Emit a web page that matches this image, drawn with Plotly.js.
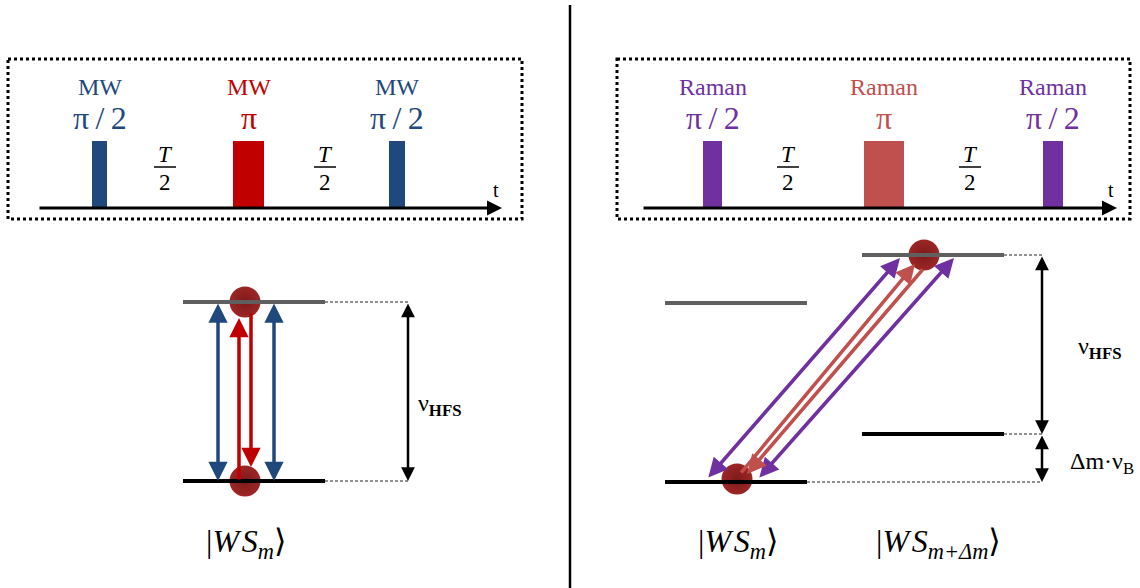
<!DOCTYPE html>
<html>
<head>
<meta charset="utf-8">
<script src="https://cdn.plot.ly/plotly-3.0.1.min.js"></script>
<style>html,body{margin:0;padding:0;background:#fff;}#plot{width:1140px;height:588px;}</style>
</head>
<body>
<div id="plot"></div>
<script>
// ---------- data ----------
// pulse sequences (time axis positions, horizontal units)
const pulseLabels   = ['MW', 'MW', 'MW', 'Raman', 'Raman', 'Raman'];
const pulseAngles   = ['π\u2009/\u20092', 'π', 'π\u2009/\u20092', 'π\u2009/\u20092', 'π', 'π\u2009/\u20092'];
const pulseStart    = [92, 233, 389, 703, 864, 1043];
const pulseEnd      = [107, 264, 405, 722, 904, 1063];
const pulseColors   = ['#1F497D', '#C00000', '#1F497D', '#7030A0', '#C0504D', '#7030A0'];
const gapCenters    = [165, 325, 788, 970];          // T/2 labels
const timeAxisStart = [38, 642];
const timeAxisEnd   = [502, 1117];

// energy levels
const levelX0    = [183, 183, 665, 665, 862, 862];
const levelX1    = [325, 325, 807, 807, 1004, 1004];
const levelY     = [302, 481, 303, 482, 255, 434];
const levelColor = ['#5f5f5f', '#000000', '#5f5f5f', '#000000', '#5f5f5f', '#000000'];

// atoms (population balls)
const atomX = [245, 245, 737, 924];
const atomY = [302, 481, 479, 255];

// transition arrows
const transTailX = [218, 274, 239, 251, 707, 758, 740, 924];
const transTailY = [302, 302, 481, 312, 479, 479, 474, 268];
const transHeadX = [218, 274, 239, 251, 900, 954, 915, 747];
const transHeadY = [481, 481, 318, 467, 258, 258, 264, 474];
const transColor = ['#1F497D', '#1F497D', '#C00000', '#C00000', '#7030A0', '#7030A0', '#C0504D', '#C0504D'];
const transBoth  = [true, true, false, false, true, true, false, false];

// spacing markers
const gapArrowX  = [408, 1042, 1042];
const gapArrowY0 = [302, 255, 434];
const gapArrowY1 = [481, 434, 482];
const gapLabels  = ['ν<sub><b>HFS</b></sub>', 'ν<sub><b>HFS</b></sub>', 'Δm·ν<sub>B</sub>'];
const gapLabelX  = [440, 1100, 1102];
const gapLabelY  = [405, 348, 463];

const ketLabels = ['|<i>W\u200aS<sub>m</sub></i>⟩', '|<i>W\u200aS<sub>m</sub></i>⟩', '|<i>W\u200aS<sub>m+Δm</sub></i>⟩'];
const ketX      = [246, 738, 938];

// ---------- build ----------
const serif = '"Liberation Serif", "Times New Roman", "DejaVu Serif", serif';
const shapes = [];
const annotations = [];

shapes.push({type: 'line', xref: 'x', yref: 'y', x0: 570, x1: 570, y0: 5, y1: 588, line: {color: '#000', width: 2.5}});
[[8, 522], [617, 1130]].forEach(b => {
  shapes.push({type: 'rect', xref: 'x', yref: 'y', x0: b[0], x1: b[1], y0: 59, y1: 219,
    line: {color: '#000', width: 3, dash: 'dot'}, fillcolor: 'rgba(0,0,0,0)'});
});
timeAxisStart.forEach((x0, i) => {
  annotations.push({x: timeAxisEnd[i], y: 208, ax: x0, ay: 208, xref: 'x', yref: 'y', axref: 'x', ayref: 'y',
    text: '', showarrow: true, arrowhead: 2, arrowsize: 1, arrowwidth: 3, arrowcolor: '#000'});
  annotations.push({x: timeAxisEnd[i] - 6, y: 190, xref: 'x', yref: 'y', text: 't', showarrow: false,
    font: {family: serif, size: 20, color: '#000'}});
});
pulseStart.forEach((x0, i) => {
  shapes.push({type: 'rect', xref: 'x', yref: 'y', x0: x0, x1: pulseEnd[i], y0: 141, y1: 208,
    line: {width: 0}, fillcolor: pulseColors[i], layer: 'above'});
  const cx = (x0 + pulseEnd[i]) / 2;
  annotations.push({x: cx, y: 87, xref: 'x', yref: 'y', text: pulseLabels[i], showarrow: false,
    font: {family: serif, size: 24, color: pulseColors[i]}});
  annotations.push({x: cx, y: 118, xref: 'x', yref: 'y', text: pulseAngles[i], showarrow: false,
    font: {family: serif, size: 32, color: pulseColors[i]}});
});
gapCenters.forEach(cx => {
  annotations.push({x: cx, y: 154, xref: 'x', yref: 'y', text: '<i>T</i>', showarrow: false,
    font: {family: serif, size: 23, color: '#000'}});
  shapes.push({type: 'line', xref: 'x', yref: 'y', x0: cx - 11, x1: cx + 11, y0: 167, y1: 167, line: {color: '#000', width: 1.5}});
  annotations.push({x: cx, y: 182, xref: 'x', yref: 'y', text: '2', showarrow: false,
    font: {family: serif, size: 23, color: '#000'}});
});
levelX0.forEach((x0, i) => {
  shapes.push({type: 'line', xref: 'x', yref: 'y', x0: x0, x1: levelX1[i], y0: levelY[i], y1: levelY[i],
    line: {color: levelColor[i], width: 4}});
});
[[325, 408, 302], [325, 408, 481], [1004, 1042, 255], [1004, 1042, 434], [807, 1042, 482]].forEach(d => {
  shapes.push({type: 'line', xref: 'x', yref: 'y', x0: d[0], x1: d[1], y0: d[2], y1: d[2],
    line: {color: '#222', width: 1, dash: '3px,2px'}});
});
gapArrowX.forEach((x, i) => {
  annotations.push({x: x, y: gapArrowY1[i], ax: x, ay: gapArrowY0[i], xref: 'x', yref: 'y', axref: 'x', ayref: 'y',
    text: '', showarrow: true, arrowhead: 2, startarrowhead: 2, arrowside: 'end+start', arrowsize: 1.1, startarrowsize: 1.1,
    arrowwidth: 2.5, arrowcolor: '#000'});
  annotations.push({x: gapLabelX[i], y: gapLabelY[i], xref: 'x', yref: 'y', text: gapLabels[i], showarrow: false,
    font: {family: serif, size: 24, color: '#000'}});
});
transTailX.forEach((tx, i) => {
  const a = {x: transHeadX[i], y: transHeadY[i], ax: tx, ay: transTailY[i], xref: 'x', yref: 'y', axref: 'x', ayref: 'y',
    text: '', showarrow: true, arrowhead: 2, arrowsize: 1.1, arrowwidth: 3.5, arrowcolor: transColor[i]};
  if (transBoth[i]) { a.arrowside = 'end+start'; a.startarrowhead = 2; a.startarrowsize = 1.1; }
  annotations.push(a);
});
ketLabels.forEach((t, i) => {
  annotations.push({x: ketX[i], y: 543, xref: 'x', yref: 'y', text: t, showarrow: false,
    font: {family: serif, size: 32, color: '#000'}});
});

const traces = [{
  x: atomX, y: atomY, type: 'scatter', mode: 'markers', hoverinfo: 'skip',
  marker: {size: 31, color: 'rgba(140,0,0,0.85)', line: {width: 0},
    gradient: {type: 'radial', color: 'rgba(110,0,0,0.9)'}}
}];

const layout = {
  width: 1140, height: 588,
  margin: {l: 0, r: 0, t: 0, b: 0},
  paper_bgcolor: '#fff', plot_bgcolor: '#fff',
  showlegend: false,
  font: {family: serif},
  xaxis: {range: [0, 1140], visible: false, fixedrange: true},
  yaxis: {range: [588, 0], visible: false, fixedrange: true},
  shapes: shapes,
  annotations: annotations
};
Plotly.newPlot('plot', traces, layout, {staticPlot: true, displayModeBar: false});
</script>
</body>
</html>
